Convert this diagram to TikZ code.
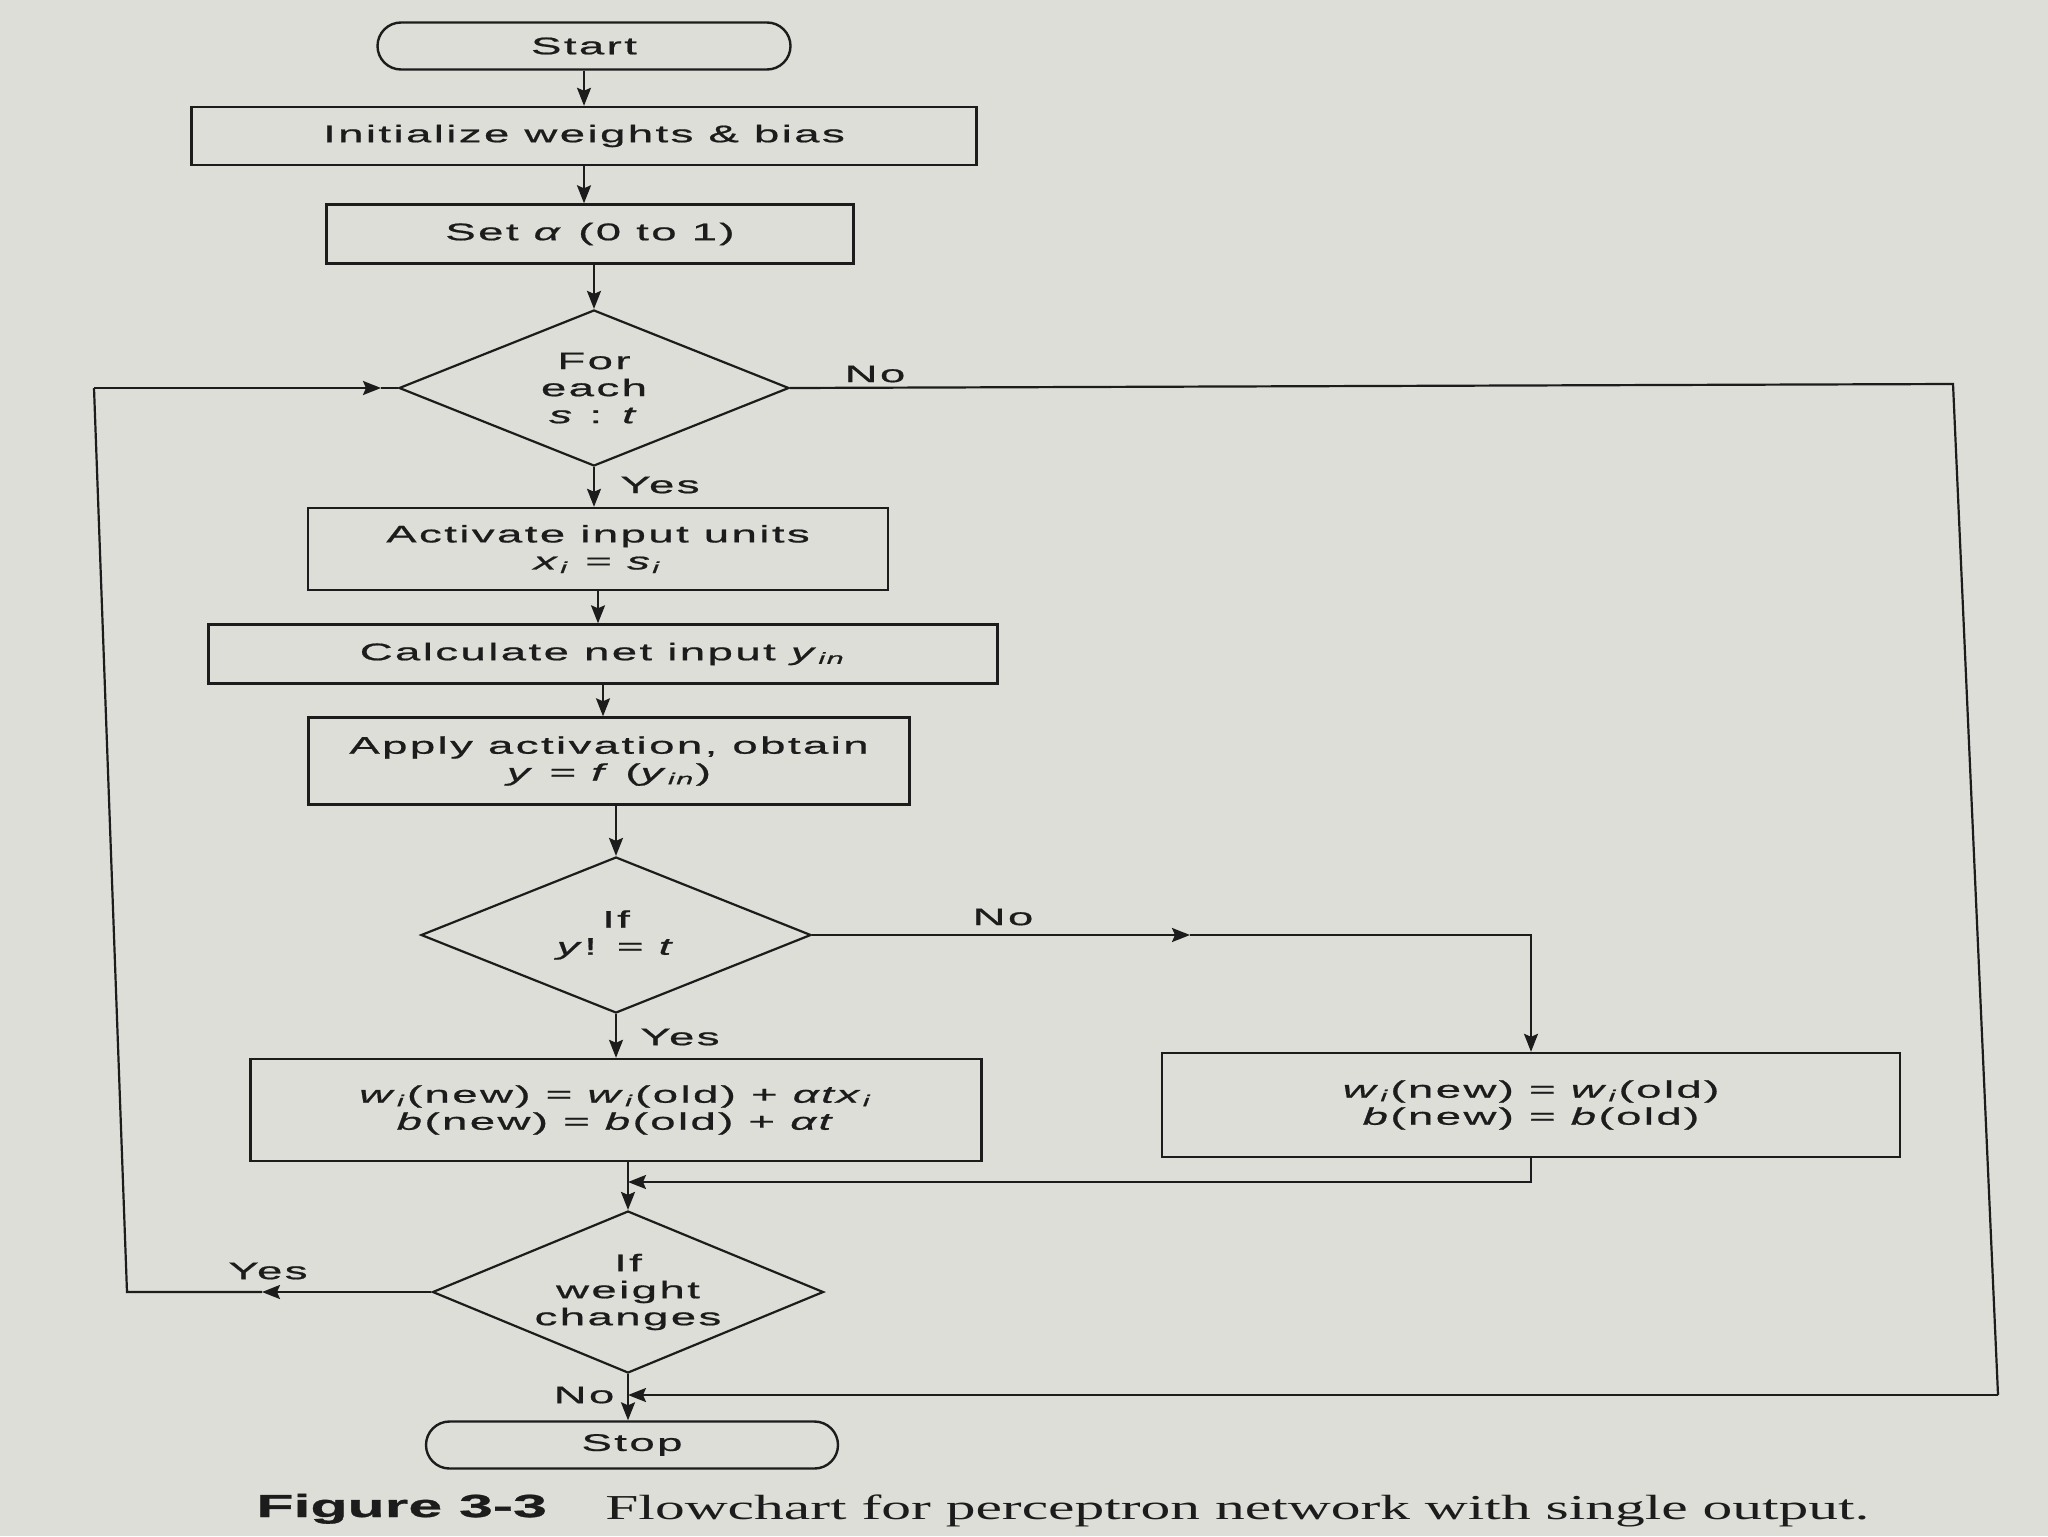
\documentclass[tikz,border=0pt]{standalone}
\usepackage{fontspec}
\usetikzlibrary{shapes.geometric,shapes.misc,arrows.meta}
\newfontfamily\fcfont[FakeStretch=1.9,LetterSpace=10,FakeBold=0.8]{Liberation Sans}
\newfontfamily\capsansfont[FakeStretch=1.9,FakeBold=1]{Liberation Sans Bold}
\newfontfamily\capseriffont[FakeStretch=1.7]{Liberation Serif}
\definecolor{paper}{RGB}{220,222,215}
\definecolor{ink}{RGB}{28,28,28}
\newcommand{\vi}[1]{\textit{#1}}
\newcommand{\sbi}[1]{\textsubscript{\textit{#1}}}
\tikzset{
 fc/.style={font=\fcfont\fontsize{12}{13.5}\selectfont, text=ink},
 box/.style={fc, draw=ink, line width=1.2pt, rectangle, align=center, inner sep=0pt},
 term/.style={fc, draw=ink, line width=1.2pt, rounded rectangle, align=center, inner sep=0pt},
 dec/.style={fc, draw=ink, line width=1.1pt, diamond, shape aspect=2.2, align=center, inner sep=0pt},
 conn/.style={draw=ink, line width=1.1pt},
 arr/.style={conn, -{Stealth[length=9pt,width=7pt,inset=1.5pt]}},
 lbl/.style={fc, inner sep=0pt},
}
\begin{document}
\begin{tikzpicture}[x=0.5pt,y=-0.5pt]
\fill[paper] (0,0) rectangle (2048,1536);
\useasboundingbox (0,0) rectangle (2048,1536);

% nodes
\node[term, minimum width=206.5pt, minimum height=23.5pt] (start) at (584,46) {Start};
\node[box, minimum width=392.5pt, minimum height=29pt] (init) at (584,136) {Initialize weights \& bias};
\node[box, minimum width=263.5pt, minimum height=29.5pt] (set) at (590,234) {Set \vi{α} (0 to 1)};
\node[dec, minimum width=195pt, minimum height=78pt] (foreach) at (594,388) {For\\each\\\vi{s} : \vi{t}};
\node[box, minimum width=290pt, minimum height=41pt] (activate) at (598,549) {Activate input units\\\vi{x}\sbi{i} = \vi{s}\sbi{i}};
\node[box, minimum width=394.5pt, minimum height=29.5pt] (calc) at (603,654) {Calculate net input \vi{y}\sbi{in}};
\node[box, minimum width=300.5pt, minimum height=43.5pt] (apply) at (609,761) {Apply activation, obtain\\\vi{y} = \vi{f} (\vi{y}\sbi{in})};
\node[dec, minimum width=195pt, minimum height=78pt] (ifyt) at (616,935) {If\\\vi{y}! = \vi{t}};
\node[box, minimum width=365.5pt, minimum height=51pt] (upd) at (616,1110) {\vi{w}\sbi{i}(new) = \vi{w}\sbi{i}(old) + \vi{αtx}\sbi{i}\\\vi{b}(new) = \vi{b}(old) + \vi{αt}};
\node[box, minimum width=369pt, minimum height=52pt] (keep) at (1531,1105) {\vi{w}\sbi{i}(new) = \vi{w}\sbi{i}(old)\\\vi{b}(new) = \vi{b}(old)};
\node[dec, minimum width=195.5pt, minimum height=81pt] (ifw) at (628,1292) {If\\weight\\changes};
\node[term, minimum width=206pt, minimum height=23.5pt] (stop) at (632,1445) {Stop};

% labels
\node[lbl] (lno1) at (875,374) {No};
\node[lbl] (lyes1) at (660,485) {Yes};
\node[lbl] (lno2) at (1003,917) {No};
\node[lbl] (lyes2) at (680,1037) {Yes};
\node[lbl] (lyes3) at (268,1271) {Yes};
\node[lbl] (lno3) at (584,1395) {No};

% helper coordinates
\coordinate (arrin) at (381,388);
\coordinate (lt) at (94,388);
\coordinate (lb) at (127,1292);
\coordinate (yesarr) at (262,1292);
\coordinate (rt) at (1953,384);
\coordinate (rb) at (1998,1395);
\coordinate (noarr) at (1190,935);
\coordinate (merge) at (628,1182);
\coordinate (stopin) at (628,1395);

% main chain
\draw[arr] (start.south) -- (start.south |- init.north);
\draw[arr] (init.south) -- (init.south |- set.north);
\draw[arr] (foreach.north |- set.south) -- (foreach.north);
\draw[arr] (foreach.south) -- (foreach.south |- activate.north);
\draw[arr] (activate.south) -- (activate.south |- calc.north);
\draw[arr] (calc.south) -- (calc.south |- apply.north);
\draw[arr] (ifyt.north |- apply.south) -- (ifyt.north);
\draw[arr] (ifyt.south) -- (ifyt.south |- upd.north);
\draw[arr] (ifw.north |- upd.south) -- (ifw.north);
\draw[arr] (ifw.south) -- (ifw.south |- stop.north);

% No branch of y != t
\draw[arr] (ifyt.east) -- (noarr);
\draw[arr] (noarr) -| (keep.north);
\draw[arr] (keep.south) |- (merge);

% Yes loop back to for each
\draw[arr] (ifw.west) -- (yesarr);
\draw[conn] (yesarr) -- (lb) -- (lt);
\draw[arr] (lt) -- (arrin);
\draw[conn] (arrin) -- (foreach.west);

% No of for each to stop
\draw[conn] (foreach.east) -- (rt) -- (rb);
\draw[arr] (rb) -- (stopin);

% caption
\node[anchor=base west, inner sep=0pt, text=ink, font=\capsansfont\fontsize{16}{19}\selectfont] (capnum) at (256,1517) {Figure 3-3};
\node[anchor=base west, inner sep=0pt, text=ink, font=\capseriffont\fontsize{17.5}{21}\selectfont] (captext) at (605,1519) {Flowchart for perceptron network with single output.};
\end{tikzpicture}
\end{document}
